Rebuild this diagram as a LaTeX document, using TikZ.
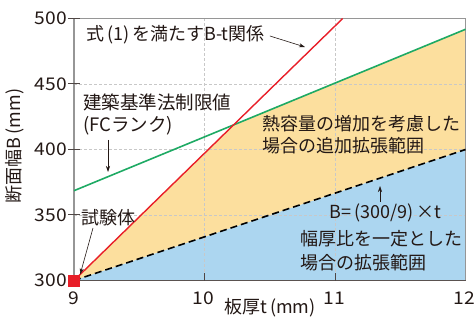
\documentclass[tikz,border=0pt]{standalone}
\usepackage{fontspec}
\usepackage{graphicx}
\setmainfont{Noto Sans CJK JP}
\usetikzlibrary{arrows.meta}
\definecolor{fillorange}{RGB}{252,223,158}
\definecolor{fillblue}{RGB}{172,214,240}
\definecolor{redline}{RGB}{232,30,40}
\definecolor{greenline}{RGB}{30,170,100}
\definecolor{txt}{RGB}{35,24,21}
\definecolor{framegray}{RGB}{150,150,150}
\definecolor{gridgray}{RGB}{200,200,200}
\newcommand{\wdg}[1]{\scalebox{1.1}[1]{#1}}
\tikzset{
  lbl/.style={text=txt, inner sep=0pt, font=\fontsize{18}{22}\selectfont},
  ticklbl/.style={text=txt, inner sep=0pt, font=\fontsize{17.5}{20}\selectfont},
  arr/.style={draw=txt, line width=0.6pt, -{Stealth[length=6pt,width=4pt]}},
  gridline/.style={draw=gridgray, dashed, line width=0.6pt, dash pattern=on 3pt off 2pt},
  framel/.style={draw=framegray, line width=1.1pt},
  tickl/.style={draw=txt!80, line width=1pt}
}
\begin{document}
\begin{tikzpicture}[x=1pt,y=-1pt]
\useasboundingbox (0,0) rectangle (476,320);
% key points
\coordinate (O) at (74,280.5);
\coordinate (TL) at (74,18.5);
\coordinate (TR) at (465.5,18.5);
\coordinate (BR) at (465.5,280.5);
\coordinate (R1) at (342.7,18.5);
\coordinate (G0) at (74,190.7);
\coordinate (G1) at (465.5,29.3);
\coordinate (X) at (233.6,124.9);
\coordinate (D1) at (465.5,149.5);
% fills
\fill[fillblue] (O) -- (D1) -- (BR) -- cycle;
\fill[fillorange] (O) -- (X) -- (G1) -- (D1) -- cycle;
% grid
\foreach \gx in {204.5,335} \draw[gridline] (\gx,18.5) -- (\gx,280.5);
\foreach \gy in {84,149.5,215} \draw[gridline] (74,\gy) -- (465.5,\gy);
% frame
\draw[framel] (O) -- (TL) -- (TR) -- (BR);
\draw[draw=txt!75, line width=1.2pt] (O) -- (BR);
% ticks
\foreach \gy in {18.5,84,149.5,215} \draw[tickl] (68,\gy) -- (80,\gy);
\foreach \gx in {204.5,335} \draw[tickl] (\gx,273) -- (\gx,280.5);
% curves
\draw[greenline, line width=1.6pt] (G0) -- (G1);
\draw[redline, line width=1.4pt] (O) -- (R1);
\draw[black, line width=1.6pt, dash pattern=on 7pt off 4pt] (O) -- (D1);
% specimen
\node[fill=redline, minimum size=12pt, inner sep=0pt] (sq) at (O) {};
% tick labels
\node[ticklbl, anchor=east] (y500) at (67,18.5) {\wdg{500}};
\node[ticklbl, anchor=east] (y450) at (67,84) {\wdg{450}};
\node[ticklbl, anchor=east] (y400) at (67,149.5) {\wdg{400}};
\node[ticklbl, anchor=east] (y350) at (67,215) {\wdg{350}};
\node[ticklbl, anchor=east] (y300) at (67,280.5) {\wdg{300}};
\node[ticklbl] (x9) at (74,298) {\wdg{9}};
\node[ticklbl] (x10) at (203.5,298) {\wdg{10}};
\node[ticklbl] (x11) at (334,298) {\wdg{11}};
\node[ticklbl, anchor=east] (x12) at (475,298) {\wdg{12}};
% axis labels
\node[lbl] (xl) at (270,308) {板厚t\,(mm)};
\node[lbl, rotate=90] (yl) at (15,146) {断面幅B\,(mm)};
% annotations
\node[lbl, anchor=west] (t1) at (86,35) {式\,(1)\,を満たすB-t関係};
\coordinate (a1) at (305,47);
\draw[arr] ([xshift=5pt,yshift=-1pt]t1.east) -- (a1);
\node[lbl, anchor=north west, align=left, font=\fontsize{18.5}{22}\selectfont] (t2) at (83,94) {建築基準法制限値\\(FCランク)};
\coordinate (a2s) at (108,140);
\coordinate (a2) at (108,172);
\draw[arr] (a2s) -- (a2);
\node[lbl, anchor=west] (t3) at (81,218) {試験体};
\coordinate (a3s) at (93,228);
\draw[arr] (a3s) -- (sq.north east);
\node[lbl, anchor=north west, align=left] (t4) at (262,115) {熱容量の増加を考慮した\\場合の追加拡張範囲};
\node[lbl, anchor=west] (t5) at (329,213) {B=\,(300/9)\,×t};
\coordinate (a5s) at (380,202);
\coordinate (a5) at (380,186);
\draw[arr] (a5s) -- (a5);
\node[lbl, anchor=north west, align=left, font=\fontsize{18}{24}\selectfont] (t6) at (300,230) {幅厚比を一定とした\\場合の拡張範囲};
\end{tikzpicture}
\end{document}
